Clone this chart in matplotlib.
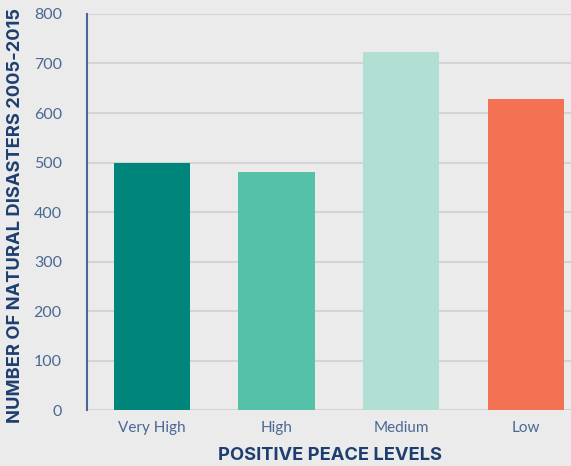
import matplotlib
matplotlib.use("Agg")
import matplotlib.pyplot as plt

# Datos
niveles = ["Very High", "High", "Medium", "Low"]
desastres = [500, 480, 724, 628]
colores = ["#00857a", "#55c1a8", "#b2dfd3", "#f37254"]

FONDO = "#ebebeb"
AZUL = "#1e3e70"
AZUL_TICKS = "#4a6894"

plt.rcParams["font.family"] = ["Lato", "DejaVu Sans"]

fig = plt.figure(figsize=(5.71, 4.66), dpi=100, facecolor=FONDO)
ax = fig.add_axes([0.152, 0.12, 0.848, 0.85], facecolor=FONDO)

ax.bar(range(len(niveles)), desastres, width=0.61, color=colores, zorder=3)

ax.set_ylim(0, 800)
ax.set_xlim(-0.52, 3.36)
ax.set_yticks(range(0, 801, 100))
ax.set_xticks(range(len(niveles)))
ax.set_xticklabels(niveles)

ax.grid(axis="y", color="#d4d4d4", linewidth=1.5, zorder=0)
ax.set_axisbelow(True)
for lado in ("top", "right", "bottom"):
    ax.spines[lado].set_visible(False)
ax.spines["left"].set_color(AZUL_TICKS)
ax.spines["left"].set_linewidth(1.5)

ax.tick_params(axis="y", length=0, pad=18, labelsize=11.5, labelcolor=AZUL_TICKS)
ax.tick_params(axis="x", length=0, pad=8, labelsize=11, labelcolor=AZUL_TICKS)

ax.set_ylabel("NUMBER OF NATURAL DISASTERS 2005-2015", fontsize=13.2,
              fontweight="bold", color=AZUL, family=["Inter", "DejaVu Sans"],
              va="center")
ax.set_xlabel("POSITIVE PEACE LEVELS", fontsize=13.2, fontweight="bold",
              color=AZUL, family=["Inter", "DejaVu Sans"], va="center")
ax.yaxis.set_label_coords(-0.147, 0.49)
ax.xaxis.set_label_coords(0.502, -0.114)

fig.savefig("out.png", dpi=100, facecolor=FONDO)
